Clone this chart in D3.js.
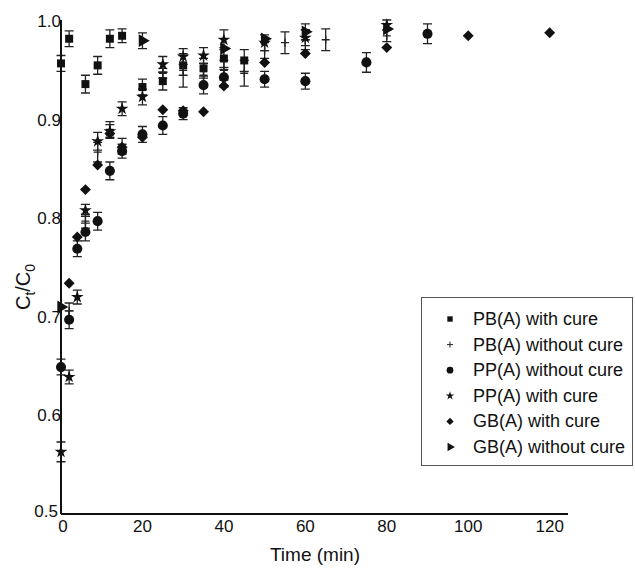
<!DOCTYPE html>
<html><head><meta charset="utf-8">
<script src="https://cdn.jsdelivr.net/npm/d3@7"></script>
<style>body{margin:0;background:#fff}svg{display:block}text{font-family:"Liberation Sans",Arial,sans-serif;fill:#111}</style>
</head><body><svg id="c" width="635" height="570"></svg>
<script>
// ---- data ----
const seriesNames = ["PB(A) with cure","PB(A) without cure","PP(A) without cure","PP(A) with cure","GB(A) with cure","GB(A) without cure"];
const xTicks = [0,20,40,60,80,100,120];
const yTicks = [0.5,0.6,0.7,0.8,0.9,1.0];

const pbCureT = [0,2,6,9,12,15,20,25,30,35,40,45];
const pbCureY = [0.957,0.982,0.936,0.955,0.982,0.985,0.933,0.939,0.955,0.952,0.962,0.960];
const pbCureE = [0.008,0.008,0.009,0.009,0.009,0.007,0.008,0.009,0.010,0.010,0.011,0.011];

const pbNoT = [2,6,9,12,15,25,30,35,40,45,50,55,60,65,80];
const pbNoY = [0.706,0.797,0.867,0.890,0.873,0.947,0.950,0.945,0.950,0.947,0.970,0.978,0.981,0.981,0.985];
const pbNoE = [0.008,0.007,0.010,0.008,0.008,0.005,0.017,0.012,0.010,0.013,0.008,0.011,0.010,0.011,0.006];

const ppNoT = [0,2,4,6,9,12,15,20,25,30,35,40,50,60,75,90];
const ppNoY = [0.649,0.697,0.769,0.786,0.797,0.848,0.868,0.885,0.894,0.906,0.935,0.943,0.941,0.939,0.958,0.987];
const ppNoE = [0.008,0.009,0.008,0.009,0.009,0.009,0.007,0.008,0.009,0.006,0.009,0.010,0.008,0.008,0.010,0.010];

const ppCureT = [0,2,4,6,9,12,15,20,25,30,35,40,50,60,80];
const ppCureY = [0.563,0.639,0.720,0.808,0.878,0.888,0.911,0.923,0.956,0.964,0.965,0.981,0.978,0.983,0.996];
const ppCureE = [0.010,0.007,0.007,0.006,0.009,0.007,0.007,0.008,0.008,0.008,0.008,0.010,0.008,0.008,0.005];

const gbCureT = [2,4,6,9,12,15,20,25,30,35,40,50,60,80,100,120];
const gbCureY = [0.734,0.781,0.829,0.854,0.886,0.872,0.882,0.910,0.909,0.908,0.934,0.958,0.967,0.973,0.985,0.988];

const gbNoT = [0,20,40,50,60,80];
const gbNoY = [0.710,0.980,0.972,0.982,0.989,0.992];
const gbNoE = [0.000,0.008,0.000,0.000,0.008,0.000];

// ---- layout ----
const svg = d3.select("#c");
const x = d3.scaleLinear().domain([0,124.5]).range([61,568]);
const y = d3.scaleLinear().domain([0.5,1.0]).range([514,21]);

const g = svg.append("g");

function errBars(T,Y,E){
  const d = T.map((t,i)=>({t,v:Y[i],e:E[i]})).filter(d=>d.e>0);
  const eg = g.append("g").attr("stroke","#222").attr("stroke-width",1.3).attr("fill","none");
  eg.selectAll("path.eb").data(d).join("path")
    .attr("d",d=>{const cx=x(d.t),y1=y(d.v+d.e),y2=y(d.v-d.e);
      return `M${cx},${y1}V${y2}M${cx-4.5},${y1}H${cx+4.5}M${cx-4.5},${y2}H${cx+4.5}`;});
}
errBars(pbCureT,pbCureY,pbCureE);
errBars(pbNoT,pbNoY,pbNoE);
errBars(ppNoT,ppNoY,ppNoE);
errBars(ppCureT,ppCureY,ppCureE);
errBars(gbNoT,gbNoY,gbNoE);

const shapes = [
  {type:d3.symbolSquare, size:64, rot:0},
  {type:null, size:0, rot:0},
  {type:d3.symbolCircle, size:80, rot:0},
  {type:d3.symbolStar, size:50, rot:0},
  {type:d3.symbolSquare, size:60, rot:45},
  {type:d3.symbolTriangle, size:70, rot:90}
];
function marks(T,Y,k,scale){
  const d = T.map((t,i)=>({t,v:Y[i]}));
  const s = shapes[k];
  const sel = g.append("g").selectAll("path").data(d).join("path")
    .attr("transform",d=>`translate(${x(d.t)},${y(d.v)}) rotate(${s.rot})`);
  if(s.type){ sel.attr("d",d3.symbol().type(s.type).size(s.size*(scale||1))).attr("fill","#111"); }
  else { sel.attr("d","M-4,0H4M0,-4V4").attr("stroke","#222").attr("stroke-width",1.3).attr("fill","none"); }
}
marks(pbCureT,pbCureY,0);
marks(pbNoT,pbNoY,1);
marks(ppNoT,ppNoY,2);
marks(ppCureT,ppCureY,3);
marks(gbCureT,gbCureY,4);
marks(gbNoT,gbNoY,5);

// axes
const ax = svg.append("g");
ax.append("line").attr("x1",x(0)).attr("x2",568).attr("y1",y(0.5)).attr("y2",y(0.5)).attr("stroke","#111").attr("stroke-width",2);
ax.append("line").attr("x1",x(0)).attr("x2",x(0)).attr("y1",y(0.5)).attr("y2",y(1.0)-1).attr("stroke","#111").attr("stroke-width",2);

ax.selectAll("text.xt").data(xTicks).join("text")
  .attr("x",d=>x(d)+(d===0?2:0)).attr("y",532).attr("text-anchor","middle").attr("font-size",17).text(d=>d);
ax.selectAll("text.yt").data(yTicks).join("text")
  .attr("x",d=>d===0.5?58:61).attr("y",d=>y(d)+(d===0.5?3:6)).attr("text-anchor","end").attr("font-size",17).text(d=>d.toFixed(1));

svg.append("text").attr("x",315).attr("y",561).attr("text-anchor","middle").attr("font-size",19).text("Time (min)");
const yl = svg.append("text").attr("transform","translate(30,287) rotate(-90)").attr("text-anchor","middle").attr("font-size",20);
yl.append("tspan").text("C");
yl.append("tspan").attr("font-size",14).attr("dy",5).text("t");
yl.append("tspan").attr("dy",-5).text("/C");
yl.append("tspan").attr("font-size",14).attr("dy",5).text("0");

// legend
const lg = svg.append("g");
lg.append("rect").attr("x",421.5).attr("y",297.5).attr("width",211).attr("height",168).attr("fill","#fff").attr("stroke","#555").attr("stroke-width",1);
const rowY = d3.scaleLinear().domain([0,5]).range([319,447]);
seriesNames.forEach((n,k)=>{
  const s = shapes[k];
  const p = lg.append("path").attr("transform",`translate(450,${rowY(k)}) rotate(${s.rot})`);
  if(s.type) p.attr("d",d3.symbol().type(s.type).size(s.size*0.45)).attr("fill","#111");
  else p.attr("d","M-3,0H3M0,-3V3").attr("stroke","#222").attr("stroke-width",1).attr("fill","none");
  lg.append("text").attr("x",473).attr("y",rowY(k)+6).attr("font-size",18).text(n);
});
</script></body></html>
